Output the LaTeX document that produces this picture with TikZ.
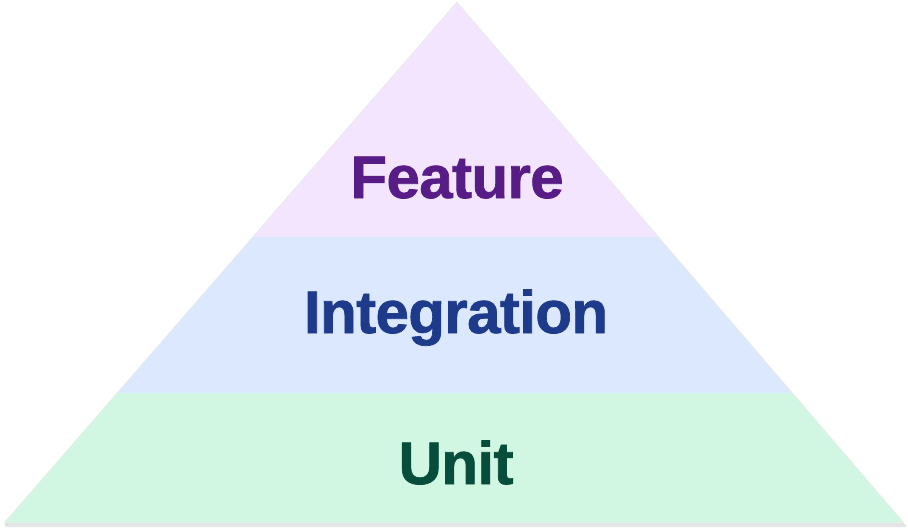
\documentclass[tikz,border=0pt]{standalone}
\usepackage{fontspec}
\setmainfont{Liberation Sans}
\newfontfamily\lblfont{Liberation Sans Bold}[FakeBold=1.2, LetterSpace=-1]
\usetikzlibrary{calc}
\definecolor{featbg}{HTML}{F2E5FD}
\definecolor{intbg}{HTML}{DBE8FD}
\definecolor{unitbg}{HTML}{D1F7E3}
\definecolor{feattx}{HTML}{581C87}
\definecolor{inttx}{HTML}{1E3A8A}
\definecolor{unittx}{HTML}{064E3B}
\tikzset{lbl/.style={font=\lblfont\fontsize{60}{62}\selectfont, inner sep=0pt, anchor=base}}
\begin{document}
\begin{tikzpicture}[x=1pt,y=-1pt]
\useasboundingbox (0,0) rectangle (908,530);
\coordinate (apex) at (457,2);
\coordinate (bl) at (4,523);
\coordinate (br) at (904,523);
% shadow
\fill[black!18] ($(apex)+(0.5,2)$) -- ($(br)+(1.5,2.5)$) -- ($(bl)+(0.5,2.5)$) -- cycle;
\fill[black!10] ($(apex)+(1,3)$) -- ($(br)+(2.5,4)$) -- ($(bl)+(1,4)$) -- cycle;
\begin{scope}
\clip (apex) -- (br) -- (bl) -- cycle;
\fill[featbg] (0,0) rectangle (908,237);
\fill[intbg] (0,237) rectangle (908,393);
\fill[unitbg] (0,393) rectangle (908,530);
\end{scope}
\draw[black!8, line width=0.6pt] (apex) -- (br) -- (bl) -- cycle;
\node[lbl, text=feattx] (feature) at (457,198) {Feature};
\node[lbl, text=inttx] (integration) at (456,333) {Integration};
\node[lbl, text=unittx] (unit) at (456,484) {Unit};
\end{tikzpicture}
\end{document}
